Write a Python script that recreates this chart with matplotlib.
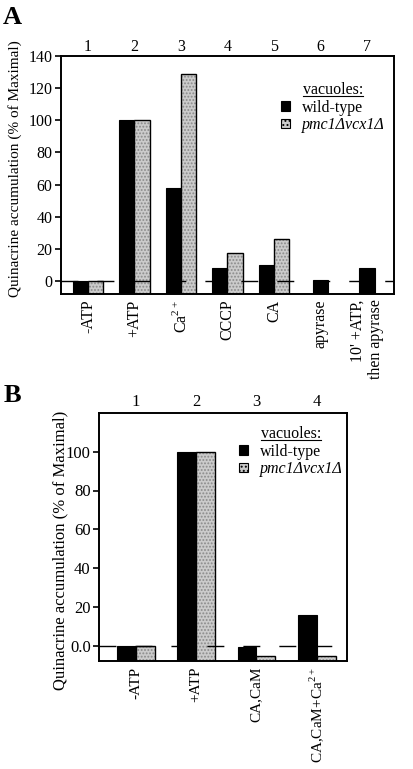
import matplotlib
matplotlib.use("Agg")
import matplotlib.pyplot as plt
from matplotlib.patches import Patch
from matplotlib.lines import Line2D
import numpy as np

plt.rcParams['font.family'] = ['Liberation Serif', 'DejaVu Serif']
plt.rcParams['mathtext.fontset'] = 'custom'
plt.rcParams['mathtext.rm'] = 'Liberation Serif'
plt.rcParams['hatch.linewidth'] = 0.9

# Panel A data
a_labels = ["-ATP", "+ATP", "Ca$^{2+}$", "CCCP", "CA", "apyrase", "10' +ATP,\nthen apyrase"]
a_wild = [0, 100, 58, 8.3, 10, 0.6, 8.3]
a_pmc = [0, 100, 129, 17.8, 26, None, None]

# Panel B data
b_labels = ["-ATP", "+ATP", "CA,CaM", "CA,CaM+Ca$^{2+}$"]
b_wild = [0, 100, -1, 16]
b_pmc = [0, 100, -5.5, -5.5]

series_names = ["wild-type", "pmc1\u0394vcx1\u0394"]
GRAY = '#cbcbcb'
YMIN = -8


def draw_panel(ax, labels, wild, pmc, ymax, yticks, yticklabels, width, fs, xfs):
    x = np.arange(1, len(labels) + 1)
    for xi, w, p in zip(x, wild, pmc):
        if p is None:
            ax.bar(xi, w - YMIN, width, bottom=YMIN, color='black',
                   edgecolor='black', lw=0.8, zorder=2)
        else:
            ax.bar(xi - width / 2, w - YMIN, width, bottom=YMIN, color='black',
                   edgecolor='black', lw=0.8, zorder=2)
            ax.bar(xi + width / 2, p - YMIN, width, bottom=YMIN, color=GRAY,
                   edgecolor='#8a8a8a', lw=0, hatch='.....', zorder=2)
            ax.bar(xi + width / 2, p - YMIN, width, bottom=YMIN, fill=False,
                   edgecolor='black', lw=1.0, zorder=2.5)
    ax.axhline(0, color='black', lw=1.0, ls=(0, (12.2, 13.7)), zorder=3)
    ax.set_ylim(YMIN, ymax)
    ax.set_yticks(yticks, yticklabels)
    ax.set_xticks(x, labels, rotation=90, ha='center', va='top',
                  multialignment='right')
    ax.tick_params(axis='x', length=0, pad=4, labelsize=xfs)
    ax.tick_params(axis='y', direction='out', length=4, width=1.2, pad=2,
                   labelsize=fs)
    for s in ax.spines.values():
        s.set_linewidth(1.4)
    sec = ax.secondary_xaxis('top')
    sec.set_xticks(x, [str(i) for i in x])
    sec.tick_params(length=0, labelsize=fs)
    sec.spines['top'].set_visible(False)
    return sec


fig = plt.figure(figsize=(4.13, 7.69), dpi=100)

axA = fig.add_axes([61 / 413, 1 - 294 / 769, 333 / 413, 238 / 769])
secA = draw_panel(axA, a_labels, a_wild, a_pmc, 140,
                  list(range(0, 141, 20)), [str(v) for v in range(0, 141, 20)],
                  0.33, 11.5, 11.5)
axA.set_xlim(0.42, 7.58)
secA.tick_params(pad=1)
axA.set_ylabel("Quinacrine accumulation (% of Maximal)", fontsize=11, va='center')
axA.yaxis.set_label_coords(-0.138, 0.527)

axB = fig.add_axes([99 / 413, 1 - 661 / 769, 248 / 413, 248 / 769])
secB = draw_panel(axB, b_labels, b_wild, b_pmc, 120,
                  list(range(0, 101, 20)), ["0.0"] + [str(v) for v in range(20, 101, 20)],
                  0.31, 12, 11)
axB.set_xlim(0.39, 4.50)
secB.tick_params(pad=2.5)
axB.set_ylabel("Quinacrine accumulation (% of Maximal)", fontsize=12, va='center')
axB.yaxis.set_label_coords(-0.157, 0.448)

fig.text(3 / 413, 1 - 24 / 769, "A", fontsize=19, fontweight='bold')
fig.text(4 / 413, 1 - 402 / 769, "B", fontsize=19, fontweight='bold')

handles = [Patch(facecolor='black', edgecolor='black', lw=0.8),
           Patch(facecolor=GRAY, edgecolor='black', lw=0.8, hatch='....')]

legends = []
for ax, anchor, fs in [(axA, (281 / 413, 1 - 82 / 769), 11.5),
                       (axB, (239 / 413, 1 - 426 / 769), 11.5)]:
    leg = ax.legend(handles, series_names, title="vacuoles:", loc='upper left',
                    bbox_to_anchor=anchor, bbox_transform=fig.transFigure,
                    frameon=False, fontsize=fs, title_fontsize=fs,
                    handlelength=0.55, handleheight=0.55, handletextpad=0.75,
                    borderpad=0, borderaxespad=0, labelspacing=0.1)
    leg.get_texts()[1].set_fontstyle('italic')
    legends.append(leg)

fig.canvas.draw()
for leg in legends:
    bb = leg.get_title().get_window_extent().transformed(fig.transFigure.inverted())
    y = bb.y0 + 2.5 / 769
    fig.add_artist(Line2D([bb.x0, bb.x1], [y, y], color='black', lw=0.8,
                          transform=fig.transFigure))

fig.savefig("out.png", dpi=100)
